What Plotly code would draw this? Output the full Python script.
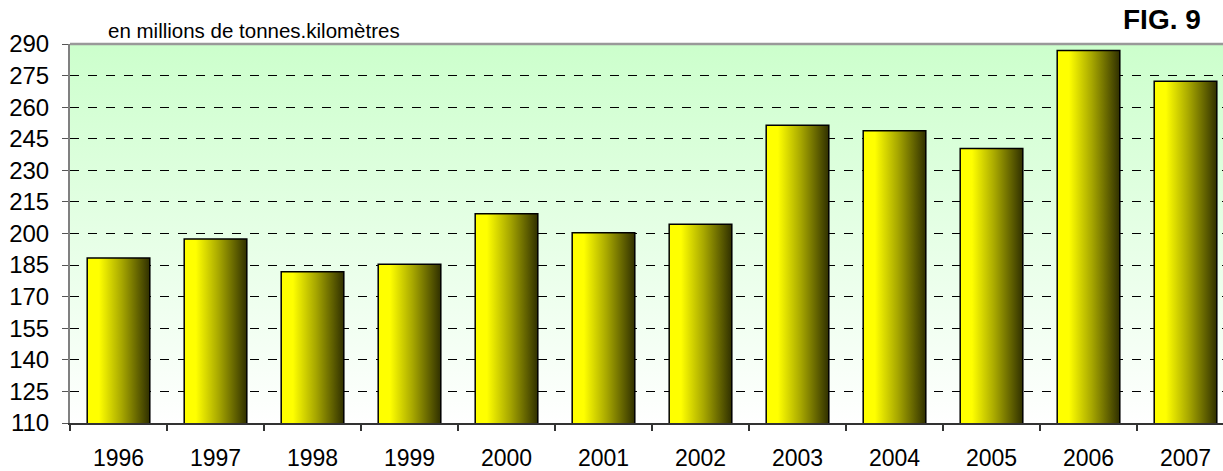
import base64
import plotly.graph_objects as go

years = ["1996", "1997", "1998", "1999", "2000", "2001", "2002", "2003", "2004", "2005", "2006", "2007"]
values = [188, 197, 181.5, 185, 209, 200, 204, 251, 248.5, 240, 286.5, 272]
y_min, y_max, y_step = 110, 290, 15

W, H = 1223, 471
ML, MT, MB, MR = 70, 44, 40, 0
PW, PH = W - ML - MR, H - MT - MB
FONT = "Liberation Sans, Arial, sans-serif"

idx = list(range(len(years)))
bw = 0.63

fig = go.Figure()

bar_scale = [[0, "#ffff00"], [0.18, "#ffff00"], [0.55, "#a8a800"], [1, "#333300"]]
for i, v in zip(idx, values):
    fig.add_trace(go.Scatter(
        x=[i - bw / 2, i - bw / 2, i + bw / 2, i + bw / 2, i - bw / 2],
        y=[y_min, v, v, y_min, y_min],
        fill="toself", mode="lines", line=dict(width=0),
        fillgradient=dict(type="horizontal", colorscale=bar_scale),
        hoverinfo="skip", showlegend=False))

fig.add_trace(go.Bar(
    x=idx, y=values, width=bw,
    marker=dict(color="rgba(0,0,0,0)", line=dict(color="black", width=3)),
    showlegend=False, hoverinfo="x+y"))

svg = ('<svg xmlns="http://www.w3.org/2000/svg" width="10" height="100" preserveAspectRatio="none">'
       '<defs><linearGradient id="g" x1="0" y1="0" x2="0" y2="1">'
       '<stop offset="0" stop-color="#ccffcc"/><stop offset="1" stop-color="#ffffff"/>'
       '</linearGradient></defs><rect width="10" height="100" fill="url(#g)"/></svg>')
src = "data:image/svg+xml;base64," + base64.b64encode(svg.encode()).decode()
fig.add_layout_image(dict(source=src, xref="x domain", yref="y domain", x=0, y=1,
                          sizex=1, sizey=1, sizing="stretch", xanchor="left",
                          yanchor="top", layer="below"))

x_hi = 11.5 - 11 / 97.0
fig.update_xaxes(range=[-0.5, x_hi], tickvals=idx, ticktext=years, ticks="", ticklen=0,
                 ticklabelstandoff=14,
                 showgrid=False, zeroline=False, showline=True, linecolor="#333333",
                 linewidth=1.5,
                 tickfont=dict(family=FONT, size=23, color="black"),
                 minor=dict(tickvals=[k - 0.5 for k in range(13)], ticks="outside",
                            ticklen=6, tickcolor="#333333", tickwidth=1.5, showgrid=False))
fig.update_yaxes(range=[y_min, y_max], tick0=y_min, dtick=y_step, ticks="outside",
                 ticklen=6, tickcolor="#555555", showgrid=True, gridcolor="black",
                 ticklabelstandoff=8,
                 griddash="dash", gridwidth=1, zeroline=False, showline=True,
                 linecolor="#808080", linewidth=2,
                 tickfont=dict(family=FONT, size=24, color="black"))

fig.add_shape(type="line", xref="paper", yref="paper", x0=0, x1=1, y0=1, y1=1,
              line=dict(color="#999999", width=2.5), layer="above")

fig.add_annotation(text="en millions de tonnes.kilomètres", xref="paper", yref="paper",
                   x=(106 - ML) / PW, y=1 + (MT - 30) / PH, xanchor="left", yanchor="middle",
                   showarrow=False, font=dict(family=FONT, size=20.5, color="black"))
fig.add_annotation(text="<b>FIG. 9</b>", xref="paper", yref="paper",
                   x=(1203 - ML) / PW, y=1 + (MT - 1) / PH, xanchor="right", yanchor="top",
                   showarrow=False, font=dict(family=FONT, size=28, color="black"))

fig.update_layout(width=W, height=H, margin=dict(l=ML, r=MR, t=MT, b=MB),
                  paper_bgcolor="white", plot_bgcolor="rgba(0,0,0,0)",
                  bargap=0.37, showlegend=False)

fig.write_html("out.html", config={"displayModeBar": False},
               post_script="document.body.style.margin='0px';")
